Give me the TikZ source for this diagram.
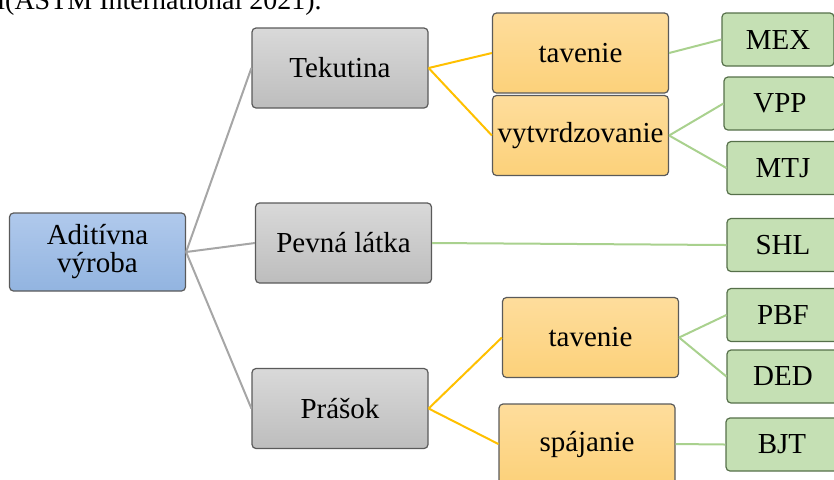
\documentclass[tikz,border=0pt]{standalone}
\usepackage{fontspec}
\setmainfont{Liberation Serif}
\newfontfamily\boxfont{Liberation Serif}
\usepackage{xcolor}
\definecolor{boxline}{HTML}{5A5A5A}
\definecolor{greenline}{HTML}{56704A}
\definecolor{graytop}{HTML}{D9D9D9}
\definecolor{graybot}{HTML}{BDBDBD}
\definecolor{bluetop}{HTML}{B0C9EC}
\definecolor{bluebot}{HTML}{92B4E0}
\definecolor{orangetop}{HTML}{FEDD9C}
\definecolor{orangebot}{HTML}{FCD17A}
\definecolor{greenfill}{HTML}{C5E0B4}
\definecolor{graywire}{HTML}{A6A6A6}
\definecolor{orangewire}{HTML}{FFC000}
\definecolor{greenwire}{HTML}{A9D18E}

\begin{document}
\begin{tikzpicture}[x=0.5pt,y=-0.5pt,
  box/.style={draw=boxline,line width=0.6pt,rounded corners=2pt,minimum width=88pt,minimum height=40pt,inner sep=1pt,font=\boxfont\fontsize{14.5}{14}\selectfont},
  rootbox/.style={box,top color=bluetop,bottom color=bluebot,minimum height=39pt,align=center},
  catbox/.style={box,top color=graytop,bottom color=graybot},
  procbox/.style={box,top color=orangetop,bottom color=orangebot},
  techbox/.style={box,draw=greenline,fill=greenfill,minimum width=56pt,minimum height=26.5pt},
  graylink/.style={draw=graywire,line width=1pt},
  orangelink/.style={draw=orangewire,line width=1pt},
  greenlink/.style={draw=greenwire,line width=1pt},
]
\useasboundingbox (0,0) rectangle (834,479);
% cut-off caption line above
\node[anchor=base west,inner sep=0pt,font=\boxfont\fontsize{14}{14}\selectfont] (cap) at (-3,9) {l(ASTM International 2021).};
% root
\node[rootbox] (root) at (97.5,252) {Aditívna\\výroba};
% categories
\node[catbox] (tek) at (340,68) {Tekutina};
\node[catbox] (pev) at (343.5,243) {Pevná látka};
\node[catbox] (pra) at (340,408.5) {Prášok};
% processes
\node[procbox] (tav1) at (580.5,53) {tavenie};
\node[procbox] (vyt) at (580.5,135.5) {vytvrdzovanie};
\node[procbox] (tav2) at (590.5,337.5) {tavenie};
\node[procbox] (spa) at (587,444) {spájanie};
% technologies
\node[techbox] (mex) at (778,39.5) {MEX};
\node[techbox] (vpp) at (780,103.5) {VPP};
\node[techbox] (mtj) at (783,168) {MTJ};
\node[techbox] (shl) at (783,245) {SHL};
\node[techbox] (pbf) at (783,315) {PBF};
\node[techbox] (ded) at (783,376.5) {DED};
\node[techbox] (bjt) at (782,444.5) {BJT};
% links
\foreach \c in {tek,pev,pra} \draw[graylink] (root.east) -- (\c.west);
\foreach \p in {tav1,vyt} \draw[orangelink] (tek.east) -- (\p.west);
\foreach \p in {tav2,spa} \draw[orangelink] (pra.east) -- (\p.west);
\draw[greenlink] (tav1.east) -- (mex.west);
\foreach \t in {vpp,mtj} \draw[greenlink] (vyt.east) -- (\t.west);
\draw[greenlink] (pev.east) -- (shl.west);
\foreach \t in {pbf,ded} \draw[greenlink] (tav2.east) -- (\t.west);
\draw[greenlink] (spa.east) -- (bjt.west);
\end{tikzpicture}
\end{document}
